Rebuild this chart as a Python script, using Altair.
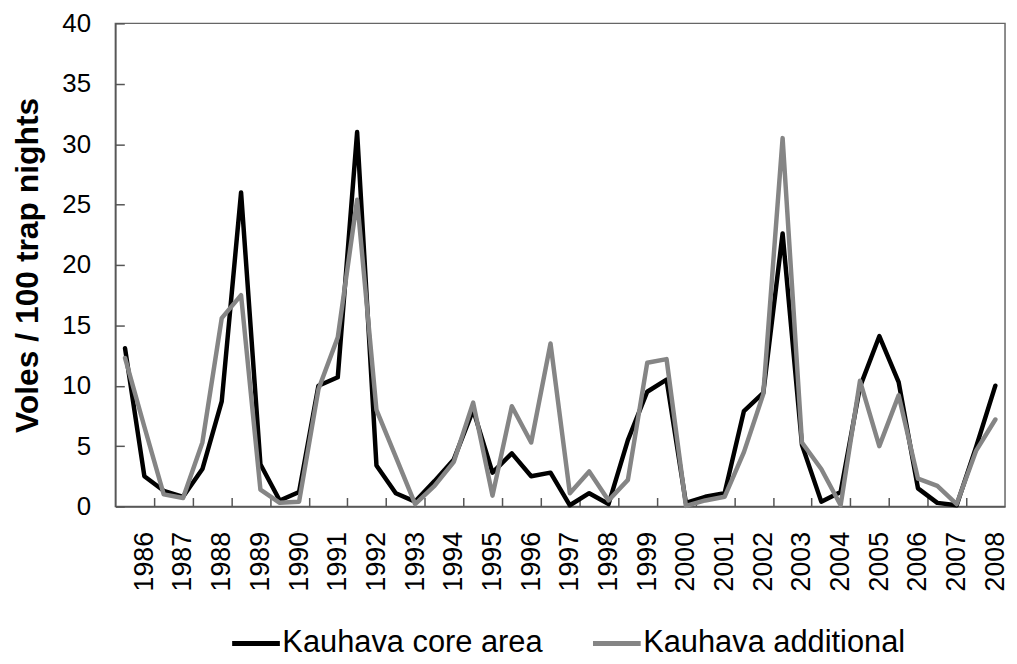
import json
import altair as alt
import pandas as pd

# ---- data (two samples per year, 1986-2008) ----
years = list(range(1986, 2009))
series_names = ["Kauhava core area", "Kauhava additional"]
series_colors = ["#000000", "#858585"]

core_area = [13.1, 2.5, 1.3, 0.8, 3.1, 8.7, 26.0, 3.5, 0.5, 1.2,
             10.0, 10.7, 31.0, 3.4, 1.1, 0.4, 2.1, 3.9, 8.0, 2.8,
             4.4, 2.5, 2.8, 0.1, 1.1, 0.2, 5.5, 9.5, 10.5, 0.3,
             0.8, 1.1, 7.9, 9.4, 22.6, 5.1, 0.4, 1.2, 9.9, 14.1,
             10.3, 1.5, 0.3, 0.1, 4.9, 10.0]
additional = [12.3, 6.6, 1.0, 0.7, 5.3, 15.6, 17.5, 1.4, 0.3, 0.4,
              9.7, 14.0, 25.4, 8.0, 4.1, 0.2, 1.7, 3.7, 8.6, 0.9,
              8.3, 5.3, 13.5, 1.1, 2.9, 0.5, 2.2, 11.9, 12.2, 0.05,
              0.5, 0.8, 4.5, 9.3, 30.5, 5.3, 3.1, 0.1, 10.4, 5.0,
              9.2, 2.3, 1.7, 0.2, 4.6, 7.2]
y_ticks = [0, 5, 10, 15, 20, 25, 30, 35, 40]

# ---- table ----
rows = []
for name, vals in zip(series_names, [core_area, additional]):
    for i, v in enumerate(vals):
        rows.append({"series": name, "i": i, "value": v})
df = pd.DataFrame(rows)

n = len(core_area)
# year labels sit on every second sample, ticks sit between the year pairs
x_values = []
for k in range(len(years)):
    x_values.append(2 * k + 1)
    if k < len(years) - 1:
        x_values.append(2 * k + 1.5)
years_js = json.dumps([str(y) for y in years])
label_expr = f"datum.value % 2 == 1 ? {years_js}[(datum.value - 1) / 2] : ''"

FONT = "Liberation Sans"

x_axis = alt.Axis(
    values=x_values,
    labelExpr=label_expr,
    labelAngle=270,
    labelFont=FONT,
    labelFontSize=27,
    labelColor="#000000",
    labelPadding=34,
    labelOverlap=False,
    labelFlush=False,
    tickSize=alt.ExprRef(expr="-9"),
    tickOpacity={"condition": {"test": "datum.value % 2 == 1", "value": 0}, "value": 1},
    tickColor="#555555",
    tickWidth=1.5,
    domainColor="#555555",
    domainWidth=1.5,
    grid=False,
    title=None,
)

y_axis = alt.Axis(
    values=y_ticks,
    labelFont=FONT,
    labelFontSize=26,
    labelColor="#000000",
    labelPadding=34,
    labelBound=False,
    tickSize=alt.ExprRef(expr="-9"),
    tickColor="#555555",
    tickWidth=1.5,
    domainColor="#555555",
    domainWidth=1.5,
    grid=False,
    title="Voles / 100 trap nights",
    titleFont=FONT,
    titleFontSize=32,
    titleFontWeight="bold",
    titleColor="#000000",
    titleAngle=270,
    titleAlign="center",
    titleBaseline="alphabetic",
    titleX=-78,
    titleY=243,
)

chart = alt.Chart(df).mark_line(
    strokeWidth=4.5, strokeJoin="round", strokeCap="round"
).encode(
    x=alt.X("i:Q", scale=alt.Scale(domain=[-0.5, n - 0.5], nice=False, zero=False), axis=x_axis),
    y=alt.Y("value:Q", scale=alt.Scale(domain=[0, 40], nice=False, zero=True), axis=y_axis),
    color=alt.Color(
        "series:N",
        scale=alt.Scale(domain=series_names, range=series_colors),
        sort=series_names,
        legend=alt.Legend(
            orient="none",
            legendX=115,
            legendY=597,
            direction="horizontal",
            title=None,
            symbolType="stroke",
            symbolStrokeWidth=5,
            symbolSize=2304,
            labelFont=FONT,
            labelFontSize=31,
            labelColor="#000000",
            labelOffset=0,
            labelLimit=600,
            columnPadding=40,
            padding=0,
        ),
    ),
    order=alt.Order("i:Q"),
).properties(
    width=895,
    height=486,
    padding={"left": 108, "top": 13.5, "right": 4, "bottom": 156.5},
    autosize=alt.AutoSizeParams(type="none"),
    background="white",
).configure_view(
    stroke="#666666",
    strokeWidth=1.5,
)

chart.save("out.html", embed_options={"renderer": "svg", "actions": False})
